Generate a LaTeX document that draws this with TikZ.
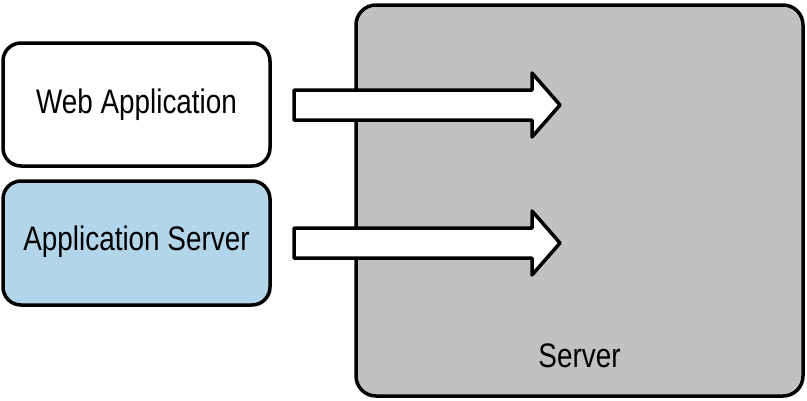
\documentclass[tikz,border=0pt]{standalone}
\usepackage{fontspec}
\setmainfont[FakeStretch=0.82]{Liberation Sans}
\begin{document}
\begin{tikzpicture}[x=1pt,y=-1pt,
  box/.style={draw=black,line width=3.5pt,rounded corners=18pt},
  lbl/.style={font=\fontsize{34}{40}\selectfont,inner sep=0pt},
  fatarrow/.style={draw=black,fill=white,line width=3.5pt,line join=round}]
\useasboundingbox (0,0) rectangle (807,400);
\definecolor{srvgray}{RGB}{193,193,193}
\definecolor{appblue}{RGB}{179,213,234}
% server
\draw[box,fill=srvgray,rounded corners=20pt] (356,5) rectangle (803,396);
\node[lbl,anchor=base] (srv) at (579.5,367) {Server};
% left boxes
\draw[box,fill=white] (3,43) rectangle (270,166);
\node[lbl] (web) at (136.5,104.5) {Web Application};
\draw[box,fill=appblue] (3,181) rectangle (270,305);
\node[lbl] (as) at (136.5,242) {Application Server};
% arrows
\coordinate (a1) at (294,105);
\coordinate (a2) at (294,243);
\foreach \a in {a1,a2}{
  \draw[fatarrow] (\a) ++(0,-15) -- ++(238,0) -- ++(0,-17) -- ++(28,32) -- ++(-28,32) -- ++(0,-17) -- ++(-238,0) -- cycle;
}
\end{tikzpicture}
\end{document}
